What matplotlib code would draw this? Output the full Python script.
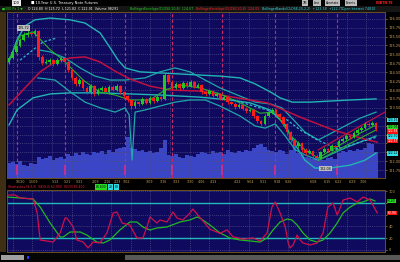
import matplotlib
matplotlib.use("Agg")
import matplotlib.pyplot as plt
from matplotlib.patches import Rectangle
import numpy as np

# ---------------- data ----------------
opens = [124.80, 124.90, 125.07, 125.24, 125.41, 125.55, 125.60, 125.57, 125.66, 124.93,
         124.76, 124.79, 124.84, 124.73, 124.84, 124.90, 124.79, 124.56, 124.34, 124.17,
         124.28, 124.06, 123.94, 124.11, 123.89, 124.00, 124.06, 123.94, 124.09, 124.00,
         124.11, 123.94, 123.83, 123.72, 123.55, 123.66, 123.61, 123.75, 123.64, 123.78,
         123.69, 123.80, 123.75, 124.42, 124.23, 124.06, 124.17, 124.06, 124.20, 124.11,
         124.23, 124.09, 124.14, 123.94, 123.89, 123.97, 123.83, 123.89, 123.75, 123.80,
         123.66, 123.61, 123.52, 123.58, 123.47, 123.41, 123.44, 123.27, 123.13, 123.05,
         123.27, 123.38, 123.44, 123.33, 123.24, 123.05, 122.82, 122.60, 122.43, 122.51,
         122.32, 122.23, 122.29, 122.15, 122.09, 122.26, 122.34, 122.32, 122.43, 122.40,
         122.57, 122.62, 122.71, 122.68, 122.79, 122.88, 122.93, 123.05, 123.02, 123.07]
closes = [124.90, 125.07, 125.24, 125.41, 125.55, 125.60, 125.57, 125.66, 124.93, 124.76,
          124.79, 124.84, 124.73, 124.84, 124.90, 124.79, 124.56, 124.34, 124.17, 124.28,
          124.06, 123.94, 124.11, 123.89, 124.00, 124.06, 123.94, 124.09, 124.00, 124.11,
          123.94, 123.83, 123.72, 123.55, 123.66, 123.61, 123.75, 123.64, 123.78, 123.69,
          123.80, 123.75, 124.42, 124.23, 124.06, 124.17, 124.06, 124.20, 124.11, 124.23,
          124.09, 124.14, 123.94, 123.89, 123.97, 123.83, 123.89, 123.75, 123.80, 123.66,
          123.61, 123.52, 123.58, 123.47, 123.41, 123.44, 123.27, 123.13, 123.05, 123.27,
          123.38, 123.44, 123.33, 123.24, 123.05, 122.82, 122.60, 122.43, 122.51, 122.32,
          122.23, 122.29, 122.15, 122.09, 122.26, 122.34, 122.32, 122.43, 122.40, 122.57,
          122.62, 122.71, 122.68, 122.79, 122.88, 122.93, 123.05, 123.02, 123.07, 122.91]
highs = [124.95, 125.12, 125.30, 125.46, 125.62, 125.68, 125.66, 125.72, 125.68, 124.98,
         124.86, 124.90, 124.88, 124.89, 124.96, 124.93, 124.82, 124.60, 124.38, 124.33,
         124.31, 124.10, 124.16, 124.14, 124.06, 124.12, 124.10, 124.14, 124.13, 124.17,
         124.14, 123.98, 123.87, 123.76, 123.71, 123.70, 123.80, 123.78, 123.83, 123.81,
         123.85, 123.84, 124.48, 124.45, 124.27, 124.22, 124.20, 124.25, 124.24, 124.28,
         124.26, 124.19, 124.17, 123.99, 124.02, 124.00, 123.94, 123.92, 123.85, 123.83,
         123.70, 123.65, 123.63, 123.61, 123.51, 123.49, 123.47, 123.30, 123.17, 123.32,
         123.43, 123.50, 123.47, 123.36, 123.27, 123.08, 122.85, 122.64, 122.56, 122.54,
         122.36, 122.34, 122.32, 122.19, 122.30, 122.39, 122.38, 122.48, 122.46, 122.62,
         122.67, 122.76, 122.74, 122.84, 122.93, 122.98, 123.10, 123.09, 123.12, 123.10]
lows = [124.72, 124.86, 125.03, 125.20, 125.38, 125.50, 125.52, 125.53, 124.85, 124.70,
        124.72, 124.74, 124.68, 124.70, 124.80, 124.74, 124.50, 124.28, 124.10, 124.12,
        124.00, 123.88, 123.90, 123.84, 123.85, 123.96, 123.90, 123.91, 123.96, 123.97,
        123.90, 123.78, 123.66, 123.48, 123.50, 123.56, 123.58, 123.60, 123.61, 123.64,
        123.66, 123.70, 123.72, 124.18, 124.01, 124.03, 124.01, 124.03, 124.07, 124.08,
        124.05, 124.05, 123.90, 123.84, 123.85, 123.79, 123.79, 123.71, 123.71, 123.62,
        123.57, 123.48, 123.49, 123.43, 123.36, 123.37, 123.22, 123.08, 122.99, 123.02,
        123.24, 123.34, 123.29, 123.19, 123.00, 122.75, 122.52, 122.36, 122.38, 122.26,
        122.17, 122.19, 122.10, 122.04, 122.06, 122.22, 122.27, 122.29, 122.35, 122.37,
        122.53, 122.58, 122.63, 122.65, 122.75, 122.84, 122.90, 122.97, 122.98, 122.86]
volumes = [150, 160, 140, 170, 130, 120, 150, 140, 210, 190,
           200, 220, 180, 200, 210, 190, 240, 220, 250, 230,
           260, 240, 230, 260, 250, 270, 240, 280, 260, 290,
           300, 310, 410, 300, 290, 270, 280, 260, 270, 250,
           260, 300, 380, 230, 220, 240, 210, 200, 230, 220,
           210, 240, 260, 250, 240, 270, 250, 260, 240, 280,
           260, 250, 270, 260, 280, 270, 300, 330, 340, 310,
           280, 270, 260, 280, 270, 240, 280, 330, 250, 230,
           210, 200, 190, 210, 200, 180, 200, 210, 190, 250,
           270, 260, 280, 270, 290, 280, 300, 350, 340, 260]

# Bollinger envelope (wide) - upper / lower
bbw_up_x = [0, 2.16, 4.32, 7.0, 11.1, 16.5, 20.5, 24.6, 27.3, 29.4, 31.3, 35.3, 40.7, 46.1,
            51.5, 56.9, 62.3, 66.4, 70.4, 73.1, 76.4, 81.2, 86.6, 92.0, 99.0]
bbw_up = [124.79, 125.41, 125.80, 125.97, 126.02, 125.97, 125.88, 125.60, 125.18, 124.84,
          124.62, 124.51, 124.48, 124.45, 124.42, 124.39, 124.34, 124.17, 123.95, 123.78,
          123.66, 123.66, 123.69, 123.72, 123.75]
bbw_lo_x = [0, 2.16, 6.5, 11.1, 16.5, 24.6, 32.6, 40.7, 51.5, 59.6, 65.0, 70.4, 74.5, 77.2,
            79.8, 82.5, 86.6, 92.0, 96.0, 99.0]
bbw_lo = [123.02, 123.44, 123.78, 123.89, 123.92, 123.92, 123.89, 123.86, 123.80, 123.72,
          123.64, 123.44, 123.02, 122.46, 122.03, 121.81, 121.81, 121.89, 122.03, 122.23]
# Bollinger bands (narrow) - upper / lower
bbn_up_x = [7.8, 11.1, 15.1, 19.2, 23.2, 27.3, 31.3, 36.7, 40.7, 44.8, 48.8, 52.9, 56.9,
            62.3, 66.4, 70.4, 73.6, 76.3, 79.8, 83.4, 86.6, 90.6, 94.7, 99.0]
bbn_up = [125.13, 125.07, 124.90, 124.62, 124.39, 124.28, 124.28, 124.34, 124.51, 124.62,
          124.51, 124.28, 124.06, 123.83, 123.66, 123.61, 123.50, 123.21, 122.82, 122.60,
          122.77, 122.99, 123.21, 123.38]
bbn_lo_x = [7.8, 12.4, 16.5, 20.5, 24.6, 28.6, 31.3, 32.4, 33.2, 34.0, 36.7, 40.7, 44.8,
            48.8, 52.9, 56.9, 62.3, 66.4, 69.1, 71.8, 74.5, 77.2, 79.8, 83.4, 86.6, 90.6,
            94.7, 99.0]
bbn_lo = [124.34, 124.28, 123.95, 123.66, 123.50, 123.38, 123.50, 123.30, 122.03, 123.38,
          123.44, 123.55, 123.66, 123.72, 123.72, 123.55, 123.27, 122.99, 122.93, 123.05,
          122.71, 122.32, 122.18, 122.03, 122.18, 122.37, 122.54, 122.71]
# moving average (red)
ma_x = [0, 4.3, 8.4, 12.4, 16.5, 20.5, 24.5, 28.6, 32.6, 38.0, 43.4, 51.5, 60.4, 69.6,
        78.5, 87.4, 96.6, 99.3]
ma = [123.58, 124.06, 124.51, 124.79, 124.90, 124.93, 124.79, 124.53, 124.31, 124.11,
      124.00, 123.97, 123.80, 123.64, 123.24, 122.88, 122.60, 122.54]
# envelope line (green)
env_x = [0, 3.0, 6.5, 11.1, 14.6, 20.0, 24.5, 28.6, 32.6, 38.0, 42.1, 46.1, 51.5, 56.9,
         62.3, 67.7, 71.8, 75.8, 79.8, 83.4, 89.3, 94.7, 99.0]
env = [124.84, 125.52, 125.63, 125.13, 124.84, 124.28, 123.94, 123.86, 123.72, 123.72,
       124.00, 124.14, 124.06, 123.89, 123.64, 123.35, 123.38, 122.74, 122.32, 122.09,
       122.46, 122.79, 123.02]
# dashed trend lines (cyan)
tr1_x = [3.0, 9.2, 12.9]
tr1 = [124.84, 125.35, 125.46]
tr2_x = [60.4, 69.6, 75.0, 78.5, 83.1, 89.3]
tr2 = [123.72, 123.44, 123.16, 122.88, 122.60, 122.32]
tr3_x = [85.8, 99.3]
tr3 = [122.26, 122.68]
# channel (red / green)
ch_up_x = [83.4, 101.4]
ch_up = [122.32, 123.38]
ch_mid_x = [83.4, 99.0]
ch_mid = [122.03, 122.88]

# stochastics
stk_x = [-0.5, 1.6, 3.0, 6.5, 7.6, 8.4, 11.9, 13.8, 15.1, 15.6, 17.3, 18.3, 20.0, 21.3,
         22.7, 24.5, 26.4, 28.1, 29.1, 30.5, 32.6, 34.5, 36.1, 37.2, 38.0, 39.9, 40.7,
         42.6, 44.2, 45.3, 46.9, 48.8, 49.6, 51.5, 54.2, 56.9, 58.8, 60.4, 63.1, 65.8,
         67.7, 69.6, 70.9, 71.8, 73.1, 74.5, 75.3, 75.8, 76.6, 77.7, 78.5, 79.3, 81.2,
         83.1, 84.7, 86.0, 87.4, 88.5, 89.3, 90.1, 92.0, 93.9, 95.5, 97.4, 99.3]
stk = [93.7, 93.7, 88.6, 86.9, 62.9, 16.6, 13.1, 28.6, 54.3, 54.3, 38.9, 16.6, 13.1, 2.9,
       13.1, 11.4, 28.6, 62.9, 64.6, 45.7, 42.3, 20.0, 20.0, 38.9, 56.0, 45.7, 50.9,
       47.4, 64.6, 54.3, 50.9, 62.9, 69.7, 55.0, 35.0, 28.0, 34.0, 22.0, 18.0, 20.0,
       15.0, 28.6, 73.1, 81.7, 62.9, 38.9, 11.4, 2.9, 8.0, 25.1, 16.6, 11.4, 8.0,
       11.4, 28.6, 73.1, 80.0, 59.4, 71.4, 85.1, 88.6, 81.7, 90.3, 85.1, 62.9]
std_x = [-0.5, 6.5, 8.4, 11.1, 13.8, 14.6, 16.5, 19.2, 21.0, 23.7, 25.4, 27.2, 29.9, 32.6,
         34.5, 36.1, 38.0, 39.9, 42.6, 46.1, 48.8, 50.7, 51.5, 54.2, 56.9, 59.6, 62.3,
         65.0, 67.7, 69.6, 71.2, 73.1, 75.0, 76.3, 77.7, 79.3, 81.2, 83.1, 84.7, 86.6,
         88.5, 90.1, 92.0, 93.9, 95.5, 97.4, 98.7]
std = [90.3, 86.9, 73.1, 45.7, 21.7, 21.7, 30.3, 30.3, 25.1, 13.1, 11.4, 16.6, 33.7, 47.4,
       47.4, 38.9, 33.7, 37.1, 38.9, 47.4, 50.9, 56.0, 54.0, 42.3, 28.6, 20.0, 16.6,
       14.9, 13.1, 20.0, 33.7, 47.4, 52.6, 50.9, 42.3, 28.6, 16.6, 13.1, 16.6, 28.6,
       45.7, 62.9, 73.1, 79.9, 81.7, 86.9, 83.4]

price_ticks = [126.00, 125.75, 125.50, 125.25, 125.00, 124.75, 124.50, 124.25, 124.00,
               123.75, 123.50, 123.25, 123.00, 122.75, 122.50, 122.25, 122.00, 121.75]
stoch_ticks = [0, 20, 40, 60, 80, 100]
date_labels = ["10/20", "12/09", "1/13", "1/21", "1/31", "2/09", "2/16", "2/23", "3/02",
               "3/09", "3/16", "3/23", "3/30", "4/06", "4/13", "4/22", "5/04", "5/11",
               "5/18", "5/26", "6/08", "6/15", "6/22", "6/29", "7/06"]
date_pos = [2.97, 6.47, 12.41, 15.65, 18.88, 23.2, 26.44, 29.13, 31.83, 38.04, 41.54,
            45.32, 48.83, 52.06, 55.03, 61.77, 65.01, 68.52, 72.29, 75.26, 82.0, 85.78,
            88.75, 92.53, 95.5]
month_pos = [2.16, 15.1, 31.3, 44.0, 57.5, 71.8, 88.5]

# price tags on the right axis (value, face, text colour)
main_tags = [(123.16, '#30e0e8', 'black'), (122.95, '#22dd22', 'black'),
             (122.84, '#ff1010', 'white'), (122.70, '#30e0e8', 'black'),
             (122.57, '#ff1010', 'white'), (122.22, '#30e0e8', 'black')]
stoch_tags = [(83.4, '#22dd22', 'black'), (62.9, '#ff1010', 'white')]

# ---------------- drawing ----------------
W, H = 400, 262
fig = plt.figure(figsize=(W / 100, H / 100), dpi=100)
fig.patch.set_facecolor('#000000')
plt.rcParams['font.family'] = ['DejaVu Sans']


def rect(x0, y0, x1, y1):
    return [x0 / W, 1 - y1 / H, (x1 - x0) / W, (y1 - y0) / H]


def frect(x0, y0, x1, y1, **kw):
    fig.patches.append(Rectangle((x0 / W, 1 - y1 / H), (x1 - x0) / W, (y1 - y0) / H,
                                 transform=fig.transFigure, figure=fig, **kw))


def ftext(x, y, s, **kw):
    fig.text(x / W, 1 - y / H, s, **kw)


def hidden(v, tags, tol):
    return any(abs(v - t[0]) < tol for t in tags)


NAVY = '#0f0a5e'
GRID = '#4c4c86'
TAN = '#c9a45a'
SPINE = '#6a5020'
XL = (-0.54, 101.4)

# left strip and header strips
frect(0, 12, 6, 252, fc='#3e2f14', ec='none')
frect(0, 6, 400, 12, fc='#161616', ec='none')
frect(0, 253, 400, 262, fc='#050505', ec='none')
frect(125, 255, 400, 260, fc='#585858', ec='none')
frect(1, 255, 24, 260, fc='#a0a0a0', ec='none')
frect(27, 256, 29, 259, fc='#1e3cff', ec='none')

# volume axis (behind)
axv = fig.add_axes(rect(7, 12, 385, 178))
axv.set_facecolor(NAVY)
idx = np.arange(len(closes))
axv.bar(idx, volumes, width=1.0, color='#3a46c6', linewidth=0, zorder=2)
axv.set_xlim(*XL)
axv.set_ylim(0, 1660)
axv.set_xticks([])
axv.set_yticks([])
for s in axv.spines.values():
    s.set_visible(False)

# price axis
ax = fig.add_axes(rect(7, 12, 385, 178))
ax.patch.set_alpha(0)
ax.set_xlim(*XL)
ax.set_ylim(121.53, 126.19)
for v in price_ticks:
    ax.axhline(v, color=GRID, lw=0.5, ls=(0, (1.5, 1.5)), zorder=1)
for gx in np.arange(1.0, 101, 5.3):
    ax.axvline(gx, color=GRID, lw=0.5, ls=(0, (1.5, 1.5)), zorder=1)
for m in month_pos:
    ax.axvline(m, color='#c8286a', lw=0.8, ls=(0, (3, 2)), zorder=2)
    ax.add_patch(Rectangle((m - 0.3, 121.62), 0.6, 0.28, fc='#c03090', ec='none', zorder=3))

ax.plot(bbw_up_x, bbw_up, color='#22b4b4', lw=1.0, zorder=3)
ax.plot(bbw_lo_x, bbw_lo, color='#22b4b4', lw=1.0, zorder=3)
ax.plot(bbn_up_x, bbn_up, color='#1fa8a8', lw=0.9, zorder=3)
ax.plot(bbn_lo_x, bbn_lo, color='#1fa8a8', lw=0.9, zorder=3)
ax.plot(ma_x, ma, color='#c01040', lw=1.1, zorder=3)
ax.plot(env_x, env, color='#2ab02a', lw=0.8, zorder=3)
ax.plot(tr1_x, tr1, color='#30b8d0', lw=0.9, ls=(0, (2, 1.5)), zorder=3)
ax.plot(tr2_x, tr2, color='#30b8d0', lw=0.9, ls=(0, (2, 1.5)), zorder=3)
ax.plot(tr3_x, tr3, color='#30b8d0', lw=0.9, ls=(0, (2, 1.5)), zorder=3)
ax.plot(ch_up_x, ch_up, color='#c01040', lw=0.9, zorder=3)
ax.plot(ch_mid_x, ch_mid, color='#2ab02a', lw=0.8, zorder=3)

o = np.array(opens); c = np.array(closes)
cols = np.where(c >= o, '#22c822', '#ff1c1c')
ax.vlines(idx, lows, highs, colors=cols, lw=0.6, zorder=5)
ax.bar(idx, np.maximum(np.abs(c - o), 0.012), bottom=np.minimum(o, c), width=0.72,
       color=cols, linewidth=0, zorder=6)

hi_i = int(np.argmax(highs)); lo_i = int(np.argmin(lows))
ax.annotate(f"{highs[hi_i]:.2f}", (hi_i, highs[hi_i]), xytext=(-4, -1), textcoords='offset points',
            ha='right', va='bottom', fontsize=2.4, color='black',
            bbox=dict(boxstyle='square,pad=0.2', fc='#bdbdbd', ec='none'), zorder=8)
ax.annotate(f"{lows[lo_i]:.2f}", (lo_i, lows[lo_i]), xytext=(2, -5), textcoords='offset points',
            ha='left', va='top', fontsize=2.4, color='black',
            bbox=dict(boxstyle='square,pad=0.2', fc='#bdbdbd', ec='none'), zorder=8)

ax.yaxis.tick_right()
ax.set_yticks(price_ticks, ["" if hidden(v, main_tags, 0.13) else f"{v:.2f}" for v in price_ticks])
ax.set_xticks(date_pos, date_labels)
ax.tick_params(axis='y', colors=TAN, labelsize=2.5, length=1.2, width=0.4, pad=1.2)
ax.tick_params(axis='x', colors=TAN, labelsize=2.3, length=0, pad=1.6)
for s in ax.spines.values():
    s.set_color(SPINE); s.set_linewidth(0.7)
ytr = ax.get_yaxis_transform()
for v, fc, tc in main_tags:
    ax.text(1.006, v, f"{v:.2f}", transform=ytr, fontsize=2.2, color=tc, va='center', ha='left',
            bbox=dict(boxstyle='square,pad=0.12', fc=fc, ec='none'), zorder=9, clip_on=False)

# stochastic axis
axs = fig.add_axes(rect(7, 190, 385, 252))
axs.set_facecolor(NAVY)
axs.set_xlim(*XL)
axs.set_ylim(-4, 102.3)
for v in stoch_ticks:
    axs.axhline(v, color=GRID, lw=0.5, ls=(0, (1.5, 1.5)), zorder=1)
for gx in np.arange(1.0, 101, 5.3):
    axs.axvline(gx, color=GRID, lw=0.5, ls=(0, (1.5, 1.5)), zorder=1)
axs.axhline(80, color='#20b8b8', lw=1.0, zorder=2)
axs.axhline(20, color='#20b8b8', lw=1.0, zorder=2)
axs.plot(std_x, std, color='#22b822', lw=0.9, zorder=3)
axs.plot(stk_x, stk, color='#d0104a', lw=0.9, zorder=4)
axs.yaxis.tick_right()
axs.set_yticks(stoch_ticks, ["" if hidden(v, stoch_tags, 8) else str(v) for v in stoch_ticks])
axs.set_xticks([])
axs.tick_params(axis='y', colors=TAN, labelsize=2.5, length=1.2, width=0.4, pad=1.2)
for s in axs.spines.values():
    s.set_color(SPINE); s.set_linewidth(0.7)
ytr2 = axs.get_yaxis_transform()
for v, fc, tc in stoch_tags:
    axs.text(1.006, v, f"{v:.2f}", transform=ytr2, fontsize=2.2, color=tc, va='center', ha='left',
             bbox=dict(boxstyle='square,pad=0.15', fc=fc, ec='none'), zorder=9, clip_on=False)

# header texts
ftext(13, 3.2, "100", fontsize=2.6, color='black', va='center',
      bbox=dict(boxstyle='square,pad=0.3', fc='#e8e8e8', ec='none'))
ftext(31, 3.2, "\u25a0 10-Year U.S. Treasury Note Futures", fontsize=2.6, color='white', va='center')
for bx, lab in [(303, "1M"), (314, "Line"), (326, "Annotate"), (346, "Events")]:
    ftext(bx, 3.2, lab, fontsize=2.2, color='black', va='center',
          bbox=dict(boxstyle='square,pad=0.25', fc='#bdbdbd', ec='none'))
ftext(376, 3.2, "INBTN 7E", fontsize=2.3, color='#ff2020', va='center', weight='bold')

ftext(2, 9, "\u25a0100 Px 1 \u25bc", fontsize=2.3, color='#20d020', va='center')
ftext(28, 9, "O 124.80  H 125.72  L 121.82  C 122.91  Volume 98291", fontsize=2.3,
      color='white', va='center')
ftext(130, 9, "BollingerEnvelope(CLOSE,10,8)  124.07", fontsize=2.3, color='#20d020', va='center')
ftext(196, 9, "BollingerEnvelope(CLOSE,20,8)  124.05", fontsize=2.3, color='#ff2020', va='center')
ftext(262, 9, "BollingerBands(CLOSE,20,2,2)  +123.38  +122.71", fontsize=2.3,
      color='#30d8e0', va='center')
ftext(342, 9, "Open Interest 74810", fontsize=2.3, color='#30d8e0', va='center')

ftext(8, 187, "Stochastics (9,3,3)  %K(9,3) 62.900  %D(3) 83.400", fontsize=2.2,
      color='#ff2040', va='center')
ftext(96, 187, "83.400", fontsize=2.2, color='black', va='center',
      bbox=dict(boxstyle='square,pad=0.2', fc='#22dd22', ec='none'))
ftext(109, 187, "20", fontsize=2.2, color='black', va='center',
      bbox=dict(boxstyle='square,pad=0.2', fc='#30d8e0', ec='none'))
ftext(115, 187, "80", fontsize=2.2, color='black', va='center',
      bbox=dict(boxstyle='square,pad=0.2', fc='#30d8e0', ec='none'))

fig.savefig("out.png", dpi=100, facecolor=fig.get_facecolor())
